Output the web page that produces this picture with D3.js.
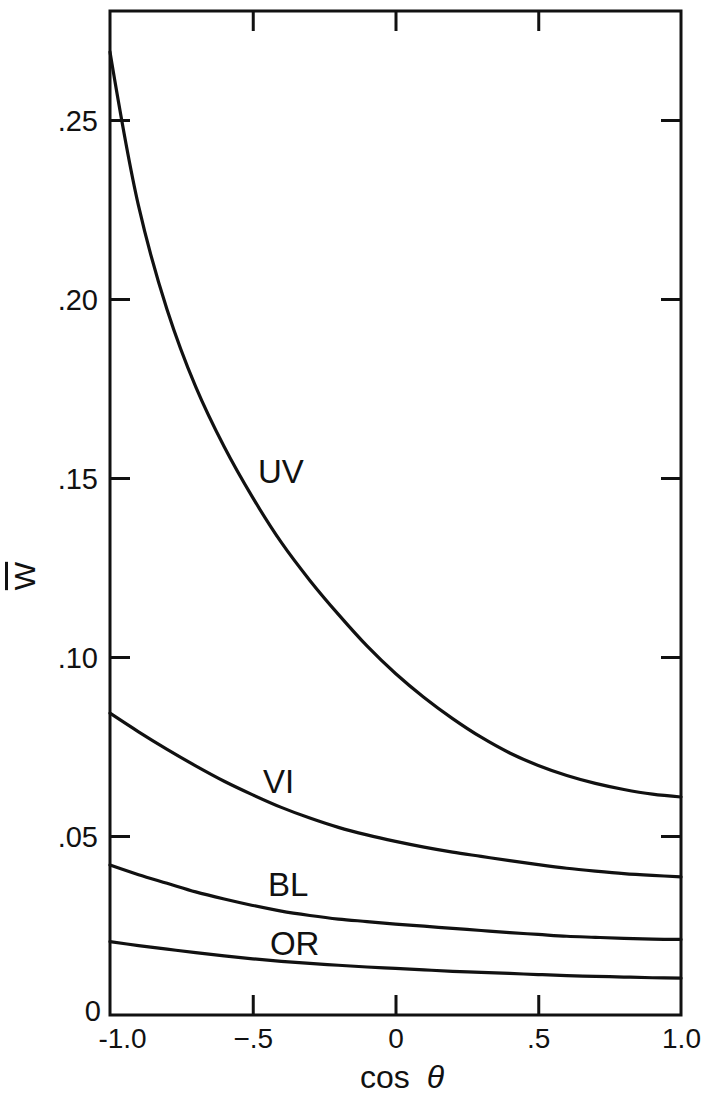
<!DOCTYPE html>
<html>
<head>
<meta charset="utf-8">
<script src="https://cdn.jsdelivr.net/npm/d3@7"></script>
<style>
  html, body { margin: 0; padding: 0; background: #fff; }
  svg text { font-family: "Liberation Sans", Arial, Helvetica, sans-serif; fill: #111; }
</style>
</head>
<body>
<svg id="chart" width="702" height="1096"></svg>
<script>
// ---- data ----
const cosTheta = [-1.0, -0.9, -0.8, -0.7, -0.6, -0.5, -0.4, -0.3, -0.2, -0.1, 0.0, 0.1, 0.2, 0.3, 0.4, 0.5, 0.6, 0.7, 0.8, 0.9, 1.0];
const uv = [0.269, 0.226, 0.197, 0.1755, 0.1587, 0.1445, 0.132, 0.1214, 0.1119, 0.1031, 0.0954, 0.0887, 0.0828, 0.0776, 0.0732, 0.0697, 0.0669, 0.0647, 0.0630, 0.0617, 0.0609];
const vi = [0.0843, 0.0791, 0.0742, 0.0696, 0.0653, 0.0615, 0.0580, 0.0550, 0.0524, 0.0503, 0.0485, 0.0469, 0.0455, 0.0443, 0.0431, 0.0420, 0.0410, 0.0402, 0.0395, 0.0390, 0.0386];
const bl = [0.0419, 0.0392, 0.0368, 0.0344, 0.0324, 0.0306, 0.0290, 0.0278, 0.0268, 0.0261, 0.0254, 0.0248, 0.0242, 0.0236, 0.0230, 0.0225, 0.0220, 0.0217, 0.0214, 0.0212, 0.0211];
const or = [0.0205, 0.0194, 0.0184, 0.0174, 0.0165, 0.0157, 0.0150, 0.0144, 0.0139, 0.0134, 0.0130, 0.0126, 0.0122, 0.0119, 0.0116, 0.0113, 0.0110, 0.0108, 0.0106, 0.0104, 0.0103];
const seriesNames = ["UV", "VI", "BL", "OR"];
const seriesValues = [uv, vi, bl, or];
const labelAnchors = [[-0.482, 0.1486], [-0.464, 0.062], [-0.447, 0.0332], [-0.44, 0.0168]];
const xTicks = [-1.0, -0.5, 0, 0.5, 1.0];
const xTickLabels = ["-1.0", "\u2212.5", "0", ".5", "1.0"];
const yTicks = [0, 0.05, 0.10, 0.15, 0.20, 0.25];
const yTickLabels = ["0", ".05", ".10", ".15", ".20", ".25"];

// ---- layout ----
const L = 110, R = 681, T = 11, B = 1015;
const x = d3.scaleLinear().domain([-1, 1]).range([L, R]);
const y = d3.scaleLinear().domain([0, 0.25]).range([B, 120]);

const svg = d3.select("#chart");
const ink = "#111";

// frame
svg.append("rect").attr("x", L).attr("y", T).attr("width", R - L).attr("height", B - T)
  .attr("fill", "none").attr("stroke", ink).attr("stroke-width", 3);

// axes with inward ticks
const tickLen = 20;
const gL = svg.append("g").attr("transform", `translate(${L},0)`)
  .call(d3.axisLeft(y).tickValues(yTicks).tickSize(-tickLen).tickPadding(12)
    .tickFormat((d, i) => yTickLabels[i]));
const gR = svg.append("g").attr("transform", `translate(${R},0)`)
  .call(d3.axisRight(y).tickValues(yTicks.filter(d => d > 0)).tickSize(-tickLen).tickFormat(""));
const gB = svg.append("g").attr("transform", `translate(0,${B})`)
  .call(d3.axisBottom(x).tickValues(xTicks).tickSize(-tickLen).tickPadding(13)
    .tickFormat((d, i) => xTickLabels[i]));
const gT = svg.append("g").attr("transform", `translate(0,${T})`)
  .call(d3.axisTop(x).tickValues(xTicks.filter(d => d > -1 && d < 1)).tickSize(-tickLen).tickFormat(""));

[gL, gR, gB, gT].forEach(g => {
  g.select(".domain").remove();
  g.selectAll(".tick line").attr("stroke", ink).attr("stroke-width", 3);
  g.selectAll(".tick text").attr("fill", ink).style("font-family", '"Liberation Sans", Arial, sans-serif');
});
gB.selectAll(".tick").filter(d => d === -1 || d === 1).select("line").remove();
gL.selectAll(".tick").filter(d => d === 0).select("line").remove();
gL.selectAll(".tick text").style("font-size", "29px").attr("dy", "0.35em");
gL.selectAll(".tick").filter(d => d === 0).select("text").attr("dy", "0.18em").attr("x", -9);
gB.selectAll(".tick text").style("font-size", "28px").attr("dy", "0.71em");
gB.selectAll(".tick").filter(d => d === -1).select("text").attr("dx", 12);

// curves
const line = d3.line().x((d, i) => x(cosTheta[i])).y(d => y(d)).curve(d3.curveCatmullRom.alpha(0.5));
svg.append("g").selectAll("path").data(seriesValues).join("path")
  .attr("d", d => line(d)).attr("fill", "none").attr("stroke", ink).attr("stroke-width", 3.2)
  .attr("stroke-linecap", "round");

// series labels
svg.append("g").selectAll("text").data(seriesNames).join("text")
  .attr("x", (d, i) => x(labelAnchors[i][0]))
  .attr("y", (d, i) => y(labelAnchors[i][1]))
  .style("font-size", "33px")
  .text(d => d);

// axis titles
const xt = svg.append("text").attr("x", 360).attr("y", 1088).style("font-size", "32px");
xt.append("tspan").text("cos ");
xt.append("tspan").attr("dx", 8).style("font-style", "italic").text("\u03b8");

svg.append("text").attr("transform", "translate(35,576) rotate(-90)")
  .attr("text-anchor", "middle").style("font-size", "30px")
  .style("text-decoration", "overline").text("W");
</script>
</body>
</html>
